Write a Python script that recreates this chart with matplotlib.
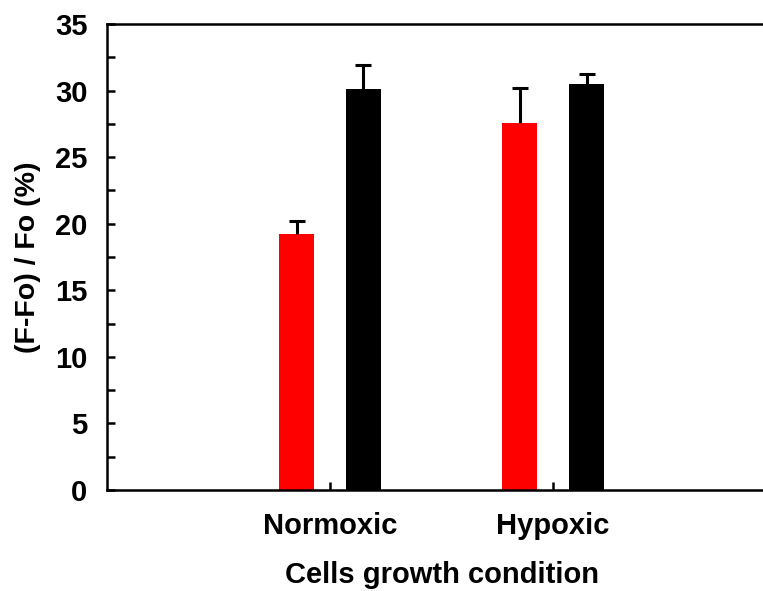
import matplotlib
matplotlib.use("Agg")
import matplotlib.pyplot as plt
import numpy as np
from matplotlib.ticker import MultipleLocator

plt.rcParams['font.family'] = ['Liberation Sans', 'DejaVu Sans']
plt.rcParams['font.weight'] = 'bold'

# --- data ---
conditions = ['Normoxic', 'Hypoxic']
red_vals = [19.2, 27.6]
red_err = [1.0, 2.6]
black_vals = [30.1, 30.5]
black_err = [1.8, 0.75]

fig = plt.figure(figsize=(7.63, 5.91), dpi=100)
ax = fig.add_axes([0.1402, 0.1709, 0.877, 0.7885])

x = np.arange(1, len(conditions) + 1)
w = 0.155
ekw = dict(elinewidth=2.2, capsize=6, capthick=2.2, ecolor='black')
bars = []
bars.append(ax.bar(x - 0.15, red_vals, w, color='#ff0000',
                   yerr=[np.zeros(2), red_err], error_kw=ekw, zorder=2))
bars.append(ax.bar(x + 0.15, black_vals, w, color='black',
                   yerr=[np.zeros(2), black_err], error_kw=ekw, zorder=2))
# only the upper cap is drawn
for b in bars:
    b.errorbar.lines[1][0].set_visible(False)

ax.set_xlim(0, 3)
ax.set_ylim(0, 35)
ax.set_xticks(x)
ax.set_xticklabels(conditions)
ax.yaxis.set_major_locator(MultipleLocator(5))
ax.yaxis.set_minor_locator(MultipleLocator(2.5))

ax.spines['right'].set_visible(False)
for s in ['left', 'bottom', 'top']:
    ax.spines[s].set_linewidth(1.8)

ax.tick_params(axis='both', which='both', direction='in', width=1.8, length=6)
ax.tick_params(axis='y', which='major', labelsize=21, pad=14)
ax.tick_params(axis='x', which='major', labelsize=21, pad=16)
ax.tick_params(right=False, top=False)

ax.set_ylabel('(F-Fo) / Fo (%)', fontsize=20.5, fontweight='bold', labelpad=10)
ax.set_xlabel('Cells growth condition', fontsize=21, fontweight='bold', labelpad=15)

fig.savefig('out.png', dpi=100)
